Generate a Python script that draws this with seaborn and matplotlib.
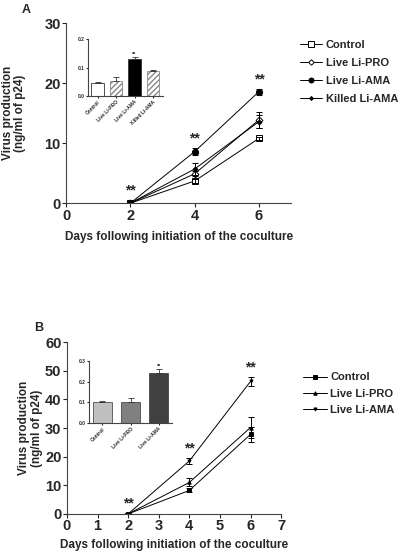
import numpy as np
import pandas as pd
import matplotlib
matplotlib.use("Agg")
import matplotlib.pyplot as plt
import seaborn as sns

# === Data: panel A ===
days = [2, 4, 6]
a_groups = ["Control", "Live Li-PRO", "Live Li-AMA", "Killed Li-AMA"]
a_control = [0.0, 3.7, 10.8]
a_control_err = [0.1, 0.3, 0.3]
a_pro = [0.0, 4.9, 13.9]
a_pro_err = [0.1, 0.4, 1.3]
a_ama = [0.0, 8.6, 18.6]
a_ama_err = [0.1, 0.6, 0.5]
a_killed = [0.0, 5.7, 13.6]
a_killed_err = [0.1, 1.0, 1.1]
a_stars = [(2, 0.9), (4, 9.6), (6, 19.5)]

a_inset_vals = [0.045, 0.052, 0.130, 0.088]
a_inset_err = [0.003, 0.014, 0.006, 0.002]

# === Data: panel B ===
b_groups = ["Control", "Live Li-PRO", "Live Li-AMA"]
b_control = [0.0, 8.2, 27.8]
b_control_err = [0.3, 0.7, 2.5]
b_pro = [0.0, 11.0, 30.2]
b_pro_err = [0.3, 1.4, 3.8]
b_ama = [0.0, 18.5, 46.3]
b_ama_err = [0.3, 1.2, 1.6]
b_stars = [(2, 1.2), (4, 20.5), (6, 48.8)]

b_inset_vals = [0.10, 0.10, 0.24]
b_inset_err = [0.006, 0.02, 0.022]

sns.set_style("ticks")
plt.rcParams['font.family'] = ['Liberation Sans', 'DejaVu Sans']
plt.rcParams['font.weight'] = 'bold'

fig = plt.figure(figsize=(4.01, 5.52), dpi=100)

def draw_lines(ax, series, styles):
    for (name, vals, errs), st in zip(series, styles):
        df = pd.DataFrame({"day": days, "val": vals})
        sns.lineplot(data=df, x="day", y="val", ax=ax, color="black", lw=0.7,
                     marker=st[0], markersize=st[1], markerfacecolor=st[2],
                     markeredgecolor="black", markeredgewidth=0.7, label=name)
        ax.errorbar(days, vals, yerr=errs, fmt="none", ecolor="black",
                    elinewidth=0.7, capsize=2.5, capthick=0.7)

def style_axes(ax, fs):
    sns.despine(ax=ax)
    for s in ["left", "bottom"]:
        ax.spines[s].set_linewidth(0.8)
        ax.spines[s].set_color("#444444")
    ax.tick_params(labelsize=fs, length=3, width=0.8, pad=1)
    for t in ax.get_xticklabels() + ax.get_yticklabels():
        t.set_fontweight("bold")

# ---------- Panel A ----------
axA = fig.add_axes([0.165, 0.632, 0.561, 0.326])
draw_lines(axA, [("Control", a_control, a_control_err),
                 ("Live Li-PRO", a_pro, a_pro_err),
                 ("Live Li-AMA", a_ama, a_ama_err),
                 ("Killed Li-AMA", a_killed, a_killed_err)],
           [("s", 5, "white"), ("D", 3.5, "white"), ("o", 4.5, "black"), ("D", 2.5, "black")])
axA.set_xlim(0, 7)
axA.set_ylim(0, 30)
axA.set_xticks([0, 2, 4, 6])
axA.set_yticks([0, 10, 20, 30])
style_axes(axA, 10.5)
axA.set_xlabel("Days following initiation of the coculture", fontsize=8.5, fontweight="bold", labelpad=6)
axA.set_ylabel("Virus production\n(ng/ml of p24)", fontsize=8.5, fontweight="bold", linespacing=1.0)
axA.yaxis.set_label_coords(-0.18, 0.5)
for x, y in a_stars:
    axA.text(x, y, "**", ha="center", va="bottom", fontsize=10, fontweight="bold")
axA.legend(loc="upper left", bbox_to_anchor=(1.02, 0.93), frameon=False,
           prop={"weight": "bold", "size": 8}, handlelength=2.0, labelspacing=0.7,
           handletextpad=0.3, borderaxespad=0, markerscale=0.8)
fig.text(0.055, 0.982, "A", fontsize=9, fontweight="bold", va="center")

# inset A
inA = fig.add_axes([0.219, 0.826, 0.187, 0.103])
dfa = pd.DataFrame({"group": a_groups, "val": a_inset_vals})
sns.barplot(data=dfa, x="group", y="val", ax=inA, errorbar=None, width=0.68,
            palette=["white", "white", "black", "white"], hue="group", legend=False,
            edgecolor="#333333", linewidth=0.6)
for i, p in enumerate(inA.patches):
    if i in (1, 3):
        p.set_hatch("//////")
        p.set_edgecolor("#888888")
inA.errorbar(range(4), a_inset_vals, yerr=[[0] * 4, a_inset_err], fmt="none",
             ecolor="#333333", elinewidth=0.6, capsize=2, capthick=0.6)
inA.text(2, a_inset_vals[2] + a_inset_err[2] + 0.004, "**", ha="center", fontsize=4)
inA.set_ylim(0, 0.2)
inA.set_yticks([0.0, 0.1, 0.2])
inA.set_yticklabels(["0.0", "0.1", "0.2"])
inA.set_xlabel("")
inA.set_ylabel("")
style_axes(inA, 3.5)
inA.tick_params(length=1.5)
inA.set_xticks(range(4))
inA.set_xticklabels(a_groups, rotation=45, ha="right", rotation_mode="anchor", fontsize=3.5, fontweight="bold")

# ---------- Panel B ----------
axB = fig.add_axes([0.167, 0.069, 0.534, 0.311])
draw_lines(axB, [("Control", b_control, b_control_err),
                 ("Live Li-PRO", b_pro, b_pro_err),
                 ("Live Li-AMA", b_ama, b_ama_err)],
           [("s", 2.5, "black"), ("^", 2.5, "black"), ("v", 2.2, "black")])
axB.set_xlim(0, 7)
axB.set_ylim(0, 60)
axB.set_xticks(range(8))
axB.set_yticks(range(0, 61, 10))
style_axes(axB, 10.5)
axB.set_xlabel("Days following initiation of the coculture", fontsize=8.5, fontweight="bold", labelpad=4)
axB.set_ylabel("Virus production\n(ng/ml of p24)", fontsize=8.5, fontweight="bold")
axB.yaxis.set_label_coords(-0.11, 0.5)
for x, y in b_stars:
    axB.text(x, y, "**", ha="center", va="bottom", fontsize=10, fontweight="bold")
axB.legend(loc="upper left", bbox_to_anchor=(1.08, 0.85), frameon=False,
           prop={"weight": "bold", "size": 8}, handlelength=2.2, labelspacing=0.55,
           handletextpad=0.3, borderaxespad=0)
fig.text(0.085, 0.405, "B", fontsize=9, fontweight="bold", va="center")

# inset B
inB = fig.add_axes([0.222, 0.234, 0.207, 0.112])
dfb = pd.DataFrame({"group": b_groups, "val": b_inset_vals})
sns.barplot(data=dfb, x="group", y="val", ax=inB, errorbar=None, width=0.68,
            palette=["#c0c0c0", "#808080", "#404040"], hue="group", legend=False,
            edgecolor="#333333", linewidth=0.5)
inB.errorbar(range(3), b_inset_vals, yerr=[[0] * 3, b_inset_err], fmt="none",
             ecolor="#333333", elinewidth=0.6, capsize=2, capthick=0.6)
inB.text(2, b_inset_vals[2] + b_inset_err[2] + 0.005, "**", ha="center", fontsize=4)
inB.set_ylim(0, 0.3)
inB.set_yticks([0.0, 0.1, 0.2, 0.3])
inB.set_yticklabels(["0.0", "0.1", "0.2", "0.3"])
inB.set_xlabel("")
inB.set_ylabel("")
style_axes(inB, 3.5)
inB.tick_params(length=1.5)
inB.set_xticks(range(3))
inB.set_xticklabels(b_groups, rotation=45, ha="right", rotation_mode="anchor", fontsize=3.5, fontweight="bold")

fig.savefig("out.png", dpi=100)
